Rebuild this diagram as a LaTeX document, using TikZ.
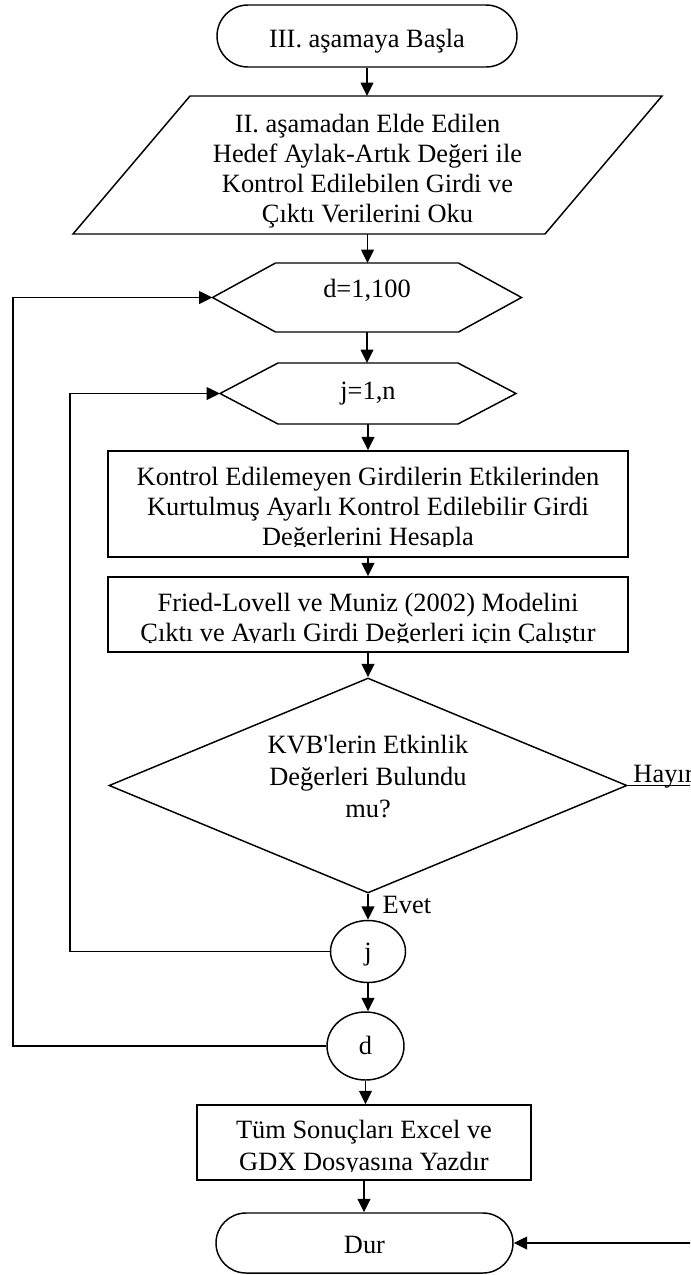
\documentclass[tikz,border=0pt]{standalone}
\usepackage{fontspec}
\setmainfont{Liberation Serif}
\usetikzlibrary{shapes.geometric,shapes.misc,arrows.meta,calc}

\begin{document}
\begin{tikzpicture}[x=0.75pt, y=-0.75pt, line width=1.1pt,
  every node/.style={font=\fontsize{19.8pt}{22.5pt}\selectfont, inner sep=0pt},
  wide/.style={font=\fontsize{19.8pt}{24pt}\selectfont},
  proc/.style={draw, rectangle, align=center},
  term/.style={draw, rounded rectangle, align=center},
  frame/.style={rectangle, outer sep=0pt, align=center},
  cond/.style={draw, diamond, aspect=2.41, align=center},
  conn/.style={draw, ellipse},
  arr/.style={-{Triangle[length=10pt,width=9.5pt]}},
  gap/.style={fill=white, draw=none}]

\useasboundingbox (0,0) rectangle (690,1275);
\clip (0,0) rectangle (690,1275);

% start terminal
\node[term, minimum width=225pt, minimum height=46.5pt, text height=16.5pt, text depth=0pt]
  (start) at (367,36) {III. aşamaya Başla};

% input (parallelogram)
\node[frame, minimum width=441.75pt, minimum height=103.5pt, text height=85.5pt, text depth=0pt]
  (read) at (367.5,165)
  {II. aşamadan Elde Edilen\\Hedef Aylak-Artık Değeri ile\\Kontrol Edilebilen Girdi ve\\Çıktı Verilerini Oku};
\draw ($(read.north west)+(117,0)$) -- (read.north east)
  -- ($(read.south east)+(-117,0)$) -- (read.south west) -- cycle;

% outer loop header
\node[frame, minimum width=231.75pt, minimum height=51.75pt, text height=0pt, text depth=0pt]
  (dhex) at (367,297.5) {d=1,100};
\draw (dhex.west) -- ($(dhex.north west)+(63,0)$) -- ($(dhex.north east)+(-63,0)$)
  -- (dhex.east) -- ($(dhex.south east)+(-63,0)$) -- ($(dhex.south west)+(63,0)$) -- cycle;

% inner loop header
\node[frame, minimum width=222pt, minimum height=45.75pt, text height=8.25pt, text depth=0pt]
  (jhex) at (368,393.5) {j=1,n};
\draw (jhex.west) -- ($(jhex.north west)+(58,0)$) -- ($(jhex.north east)+(-58,0)$)
  -- (jhex.east) -- ($(jhex.south east)+(-58,0)$) -- ($(jhex.south west)+(58,0)$) -- cycle;

% processing steps (last line trimmed at the text area's lower edge)
\node[proc, minimum width=390pt, minimum height=79.5pt, text height=61.5pt, text depth=0pt]
  (adj) at (368,504)
  {Kontrol Edilemeyen Girdilerin Etkilerinden\\Kurtulmuş Ayarlı Kontrol Edilebilir Girdi\\Değerlerini Hesapla};
\fill[gap] ($(adj.south west)+(2.5,-2)$) rectangle ($(adj.south east)+(-2.5,-11)$);

\node[proc, minimum width=390pt, minimum height=56.25pt, text height=39.75pt, text depth=0pt]
  (model) at (368,614.5)
  {Fried-Lovell ve Muniz (2002) Modelini\\Çıktı ve Ayarlı Girdi Değerleri için Çalıştır};
\fill[gap] ($(model.south west)+(2.5,-2)$) rectangle ($(model.south east)+(-2.5,-10)$);

% decision
\node[cond, wide, minimum width=388.5pt, minimum height=161.25pt, text height=47.25pt, text depth=0pt]
  (dia) at (368,785.5)
  {KVB\textquotesingle lerin Etkinlik\\Değerleri Bulundu\\mu?};

% loop ends
\node[conn, minimum width=56.25pt, minimum height=46.5pt, text height=12.75pt, text depth=0pt]
  (jend) at (368,951.5) {j};
\node[conn, minimum width=57.75pt, minimum height=51pt, text height=12pt, text depth=0pt]
  (dend) at (365.5,1046) {d};

% output and stop
\node[proc, wide, minimum width=250.5pt, minimum height=56.25pt, text height=41.25pt, text depth=0pt]
  (save) at (364,1142.5)
  {Tüm Sonuçları Excel ve\\GDX Dosyasına Yazdır};
\fill[gap] ($(save.south west)+(2.5,-2)$) rectangle ($(save.south east)+(-2.5,-9)$);

\node[term, minimum width=222.75pt, minimum height=45pt, text height=15pt, text depth=0pt]
  (stop) at (364.5,1243) {Dur};

% main flow
\draw[arr] (start.south) -- (start.south |- read.north);
\draw[arr] (read.south) -- (read.south |- dhex.north);
\draw[arr] (dhex.south) -- (dhex.south |- jhex.north);
\draw[arr] (jhex.south) -- (jhex.south |- adj.north);
\draw[arr] (adj.south) -- (adj.south |- model.north);
\draw[arr] (model.south) -- (model.south |- dia.north);
\draw[arr] (dia.south) -- (dia.south |- jend.north);
\draw[arr] (jend.south) -- (jend.south |- dend.north);
\draw[arr] (dend.south) -- (dend.south |- save.north);
\draw[arr] (save.south) -- (save.south |- stop.north);

\node[anchor=base west] (evet) at ($(dia.south)+(14,20)$) {Evet};
\node[anchor=base west] (hayir) at ($(dia.east)+(5,-3)$) {Hayır};

% loop returns and exit branch
\coordinate (jrail) at (70,0);
\coordinate (drail) at (13,0);
\coordinate (nrail) at (700,0);
\draw[arr] (jend.west) -- (jend.west -| jrail) |- (jhex.west);
\draw[arr] (dend.west) -- (dend.west -| drail) |- (dhex.west);
\draw[arr] (dia.east) -- (dia.east -| nrail) |- (stop.east);

\end{tikzpicture}
\end{document}
